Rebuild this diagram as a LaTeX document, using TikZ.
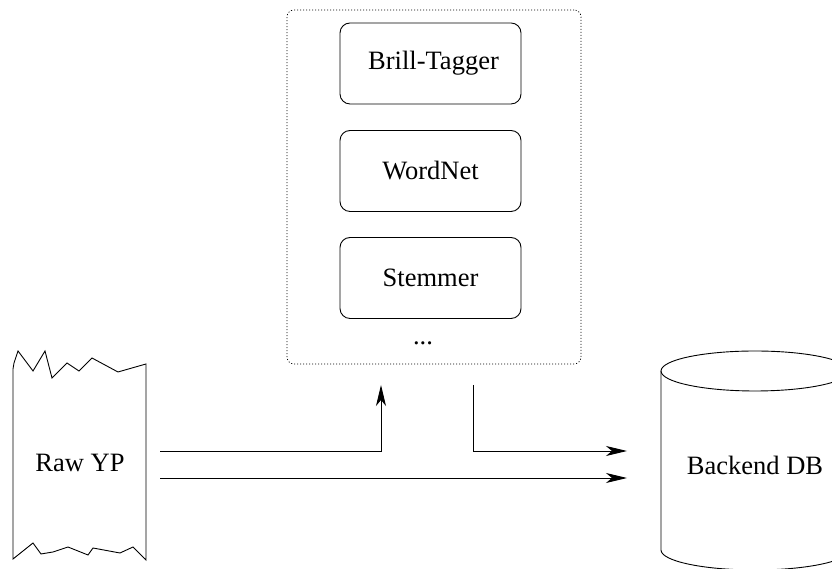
\documentclass[tikz,border=0pt]{standalone}
\usepackage{fontspec}
\setmainfont{Liberation Serif}
\usetikzlibrary{arrows.meta}
\begin{document}
\begin{tikzpicture}[x=1pt,y=1pt,
  font=\fontsize{26.5}{32}\selectfont,
  line width=0.9pt,
  tool/.style={draw, rounded corners=10pt, minimum width=181pt, minimum height=81pt, inner sep=0pt},
  arr/.style={-{Stealth[length=21pt,width=10pt,inset=6pt]}, line width=0.9pt},
  plain/.style={line width=0.9pt}]
\clip (0,0) rectangle (832,569);
\fill[white] (0,0) rectangle (832,569);

% processing group
\node[draw, line width=0.8pt, dash pattern=on 1pt off 2pt, rounded corners=7pt,
      minimum width=294pt, minimum height=354pt, inner sep=0pt] (group) at (434,382) {};
\node[tool] (brill) at (430.5,505.5) {\hspace*{6pt}Brill-Tagger};
\node[tool] (wordnet) at (430.5,398) {WordNet};
\node[tool] (stemmer) at (430.5,291) {Stemmer};
\node[anchor=base, inner sep=0pt] (dots) at (423,224) {...};

% raw paper
\draw (13,200) -- (14,206) -- (18,218) -- (33,198) -- (45,218) -- (52,191) -- (67,206)
  -- (79,198) -- (92,211) -- (118,197) -- (146,205)
  -- (146,9) -- (133,22) -- (120,16) -- (93,21) -- (88,14) -- (68,22) -- (53,17)
  -- (41,15) -- (33,26) -- (13,10) -- cycle;
\node (raw) at (80,106) {Raw YP};

% database cylinder
\draw (755,198) ellipse [x radius=94, y radius=20];
\draw (661,198) -- (661,19) arc[start angle=180, end angle=360, x radius=94, y radius=20] -- (849,198);
\node (db) at (755,104) {Backend DB};

% connectors
\coordinate (a1) at (160,118);
\coordinate (a1end) at (381,184);
\coordinate (a2) at (473,184);
\coordinate (a2end) at (627,118);
\coordinate (a3) at (160,91);
\coordinate (a3end) at (627,91);
\draw[arr] (a1) -| (a1end);
\draw[arr] (a2) |- (a2end);
\draw[arr] (a3) -- (a3end);
\end{tikzpicture}
\end{document}
